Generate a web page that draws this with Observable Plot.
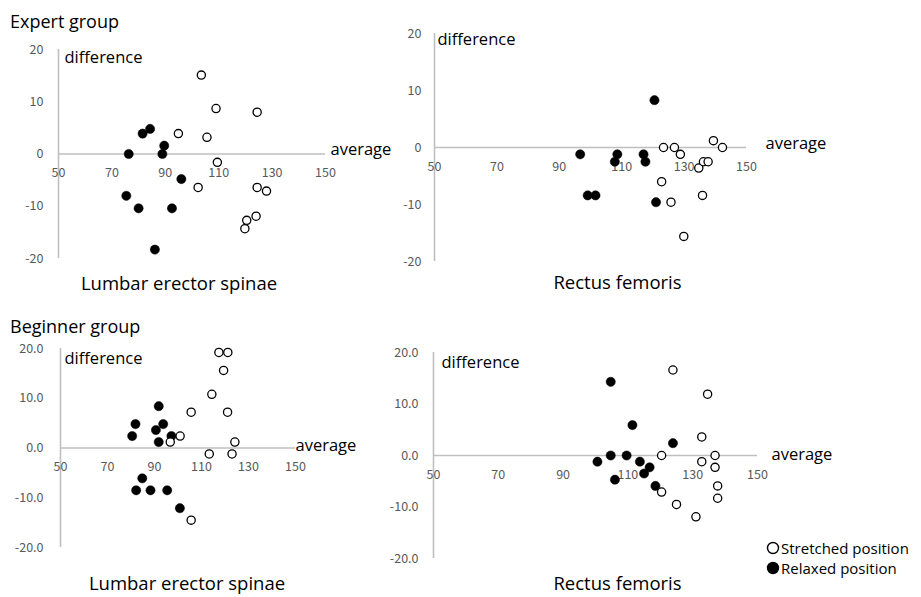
<!DOCTYPE html>
<html>
<head>
<meta charset="utf-8">
<script src="https://cdn.jsdelivr.net/npm/d3@7"></script>
<script src="https://cdn.jsdelivr.net/npm/@observablehq/plot@0.6"></script>
<style>
  html, body { margin: 0; padding: 0; background: #fff; }
  #wrap { position: relative; width: 921px; height: 597px; overflow: hidden; font-family: "Open Sans", "Noto Sans", sans-serif; }
  .panel { position: absolute; }
  .group { position: absolute; font-size: 18px; color: #000; line-height: 1; }
  .legend { position: absolute; left: 766px; top: 538px; font-size: 15px; color: #000; line-height: 20px; }
  .legend div { display: flex; align-items: center; white-space: nowrap; }
  .legend svg { margin-right: 1px; }
</style>
</head>
<body>
<div id="wrap"></div>
<script>
// ---- Data (average, difference) ----
const xTicks = [50, 70, 90, 110, 130, 150];
const yTicks = [20, 10, 0, -10, -20];
const expertYTickLabels = ["20", "10", "0", "-10", "-20"];
const beginnerYTickLabels = ["20.0", "10.0", "0.0", "-10.0", "-20.0"];

const groupTitles = ["Expert group", "Beginner group"];
const muscleNames = ["Lumbar erector spinae", "Rectus femoris"];
const seriesNames = ["Stretched position", "Relaxed position"];

// Expert – Lumbar erector spinae
const expLumStretchedAvg  = [103.5, 109, 124.4, 94.9, 105.6, 109.5, 102.3, 124.4, 127.9, 124, 120.5, 119.8];
const expLumStretchedDiff = [15.1, 8.7, 8.0, 3.9, 3.2, -1.6, -6.4, -6.4, -7.1, -11.9, -12.7, -14.3];
const expLumRelaxedAvg    = [76.3, 81.5, 84.3, 89.6, 88.9, 96, 75.4, 80, 92.5, 86.1];
const expLumRelaxedDiff   = [0, 3.9, 4.8, 1.6, 0, -4.8, -8.0, -10.4, -10.4, -18.3];

// Expert – Rectus femoris
const expRecStretchedAvg  = [123.4, 126.9, 128.8, 139.4, 142.3, 134.7, 136.2, 137.7, 122.8, 125.8, 135.9, 129.9];
const expRecStretchedDiff = [0, 0, -1.2, 1.2, 0, -3.6, -2.5, -2.5, -6.0, -9.6, -8.4, -15.6];
const expRecRelaxedAvg    = [96.7, 99.1, 101.6, 108.6, 107.8, 117, 117.6, 120.5, 121];
const expRecRelaxedDiff   = [-1.2, -8.4, -8.4, -1.2, -2.5, -1.2, -2.5, 8.3, -9.6];

// Beginner – Lumbar erector spinae
const begLumStretchedAvg  = [117.4, 121.2, 119.4, 114.4, 105.6, 121.1, 100.9, 96.7, 124.2, 113.3, 123.0, 105.6];
const begLumStretchedDiff = [19.2, 19.2, 15.6, 10.8, 7.2, 7.2, 2.4, 1.2, 1.2, -1.2, -1.2, -14.5];
const begLumRelaxedAvg    = [80.5, 81.9, 91.8, 90.6, 93.7, 91.8, 97.2, 84.8, 82.2, 88.3, 95.4, 100.8];
const begLumRelaxedDiff   = [2.4, 4.8, 8.4, 3.6, 4.8, 1.2, 2.4, -6.1, -8.5, -8.5, -8.5, -12.1];

// Beginner – Rectus femoris
const begRecStretchedAvg  = [123.9, 134.6, 132.8, 120.4, 136.9, 132.8, 136.9, 137.7, 137.7, 120.4, 125, 131];
const begRecStretchedDiff = [16.6, 11.9, 3.6, 0, 0, -1.2, -2.3, -5.9, -8.3, -7.1, -9.5, -11.9];
const begRecRelaxedAvg    = [104.7, 111.4, 123.9, 104.7, 109.6, 100.6, 113.7, 116.7, 115, 106, 118.5];
const begRecRelaxedDiff   = [14.3, 5.9, 2.4, 0, 0, -1.2, -1.2, -2.3, -3.5, -4.7, -5.9];

const zip = (xs, ys) => xs.map((x, i) => ({avg: x, diff: ys[i]}));

const AXIS = "#bfbfbf";
const TICK = "#595959";
const TICKFONT = '"Noto Sans CJK JP", "Noto Sans", sans-serif';
const FONT = '"Open Sans", "Noto Sans", sans-serif';

function panel(cfg) {
  const chart = Plot.plot({
    width: cfg.width, height: cfg.height,
    marginLeft: cfg.ml, marginRight: cfg.mr, marginTop: cfg.mt, marginBottom: cfg.mb,
    x: {domain: [50, 150], axis: null},
    y: {domain: [-20, 20], axis: null},
    style: `background: transparent; overflow: visible; font-family: ${FONT};`,
    marks: [
      Plot.ruleX([50], {y1: -20, y2: 20, stroke: AXIS, strokeWidth: 1.6}),
      Plot.ruleY([0], {x1: 50, x2: 150, stroke: AXIS, strokeWidth: 1.6}),
      Plot.text(xTicks, {x: d => d, y: 0, dy: 19, text: d => String(d), fill: TICK, fontSize: 12.5, fontFamily: TICKFONT}),
      Plot.text(yTicks, {x: 50, y: d => d, dx: cfg.ytdx, textAnchor: "end", text: (d, i) => cfg.yLabels[i], fill: TICK, fontSize: 12.5, fontFamily: TICKFONT}),
      Plot.dot(zip(cfg.relAvg, cfg.relDiff), {x: "avg", y: "diff", r: 4.6, fill: "#000", stroke: "#000", strokeWidth: 0.5}),
      Plot.dot(zip(cfg.strAvg, cfg.strDiff), {x: "avg", y: "diff", r: 4.1, fill: "#fff", stroke: "#000", strokeWidth: 1.3}),
      Plot.text(["difference"], {frameAnchor: "top-left", lineAnchor: "middle", textAnchor: "start", dx: cfg.dfdx, dy: cfg.dfdy, fill: "#000", fontSize: 16.5}),
      Plot.text(["average"], {frameAnchor: "right", lineAnchor: "middle", textAnchor: "start", dx: cfg.avdx, dy: cfg.avdy, fill: "#000", fontSize: 16.5}),
      Plot.text([cfg.title], {frameAnchor: "bottom", lineAnchor: "middle", dx: cfg.tdx, dy: cfg.tdy, fill: "#000", fontSize: 18.5})
    ]
  });
  chart.classList.add("panel");
  chart.style.left = cfg.left + "px";
  chart.style.top = cfg.top + "px";
  return chart;
}

const wrap = document.getElementById("wrap");

wrap.appendChild(panel({
  left: 0, top: 30, width: 410, height: 275, ml: 58, mr: 85, mt: 19, mb: 47,
  yLabels: expertYTickLabels, ytdx: -15,
  strAvg: expLumStretchedAvg, strDiff: expLumStretchedDiff, relAvg: expLumRelaxedAvg, relDiff: expLumRelaxedDiff,
  dfdx: 6, dfdy: 8, avdx: 5, avdy: -4, title: muscleNames[0], tdx: -13, tdy: 26
}));
wrap.appendChild(panel({
  left: 395, top: 10, width: 526, height: 290, ml: 39, mr: 175, mt: 23, mb: 39,
  yLabels: expertYTickLabels, ytdx: -13,
  strAvg: expRecStretchedAvg, strDiff: expRecStretchedDiff, relAvg: expRecRelaxedAvg, relDiff: expRecRelaxedDiff,
  dfdx: 3, dfdy: 6, avdx: 19, avdy: -4, title: muscleNames[1], tdx: 27, tdy: 22
}));
wrap.appendChild(panel({
  left: 0, top: 330, width: 410, height: 267, ml: 60, mr: 115, mt: 18, mb: 50,
  yLabels: beginnerYTickLabels, ytdx: -17,
  strAvg: begLumStretchedAvg, strDiff: begLumStretchedDiff, relAvg: begLumRelaxedAvg, relDiff: begLumRelaxedDiff,
  dfdx: 4, dfdy: 10, avdx: 0, avdy: -2, title: muscleNames[0], tdx: 9, tdy: 37
}));
wrap.appendChild(panel({
  left: 395, top: 330, width: 526, height: 267, ml: 38, mr: 164, mt: 22, mb: 39,
  yLabels: beginnerYTickLabels, ytdx: -15,
  strAvg: begRecStretchedAvg, strDiff: begRecStretchedDiff, relAvg: begRecRelaxedAvg, relDiff: begRecRelaxedDiff,
  dfdx: 8, dfdy: 10, avdx: 14, avdy: -1, title: muscleNames[1], tdx: 22, tdy: 26
}));

// Group titles
[[groupTitles[0], 10, 12], [groupTitles[1], 10, 317]].forEach(([t, x, y]) => {
  const d = document.createElement("div");
  d.className = "group"; d.textContent = t;
  d.style.left = x + "px"; d.style.top = y + "px";
  wrap.appendChild(d);
});

// Legend
const leg = document.createElement("div");
leg.className = "legend";
seriesNames.forEach((name, i) => {
  const row = document.createElement("div");
  const filled = i === 1;
  row.innerHTML = `<svg width="14" height="14"><circle cx="7" cy="7" r="${filled ? 6.2 : 5.5}" fill="${filled ? "#000" : "#fff"}" stroke="#000" stroke-width="${filled ? 0 : 1.4}"/></svg><span></span>`;
  row.querySelector("span").textContent = name;
  leg.appendChild(row);
});
wrap.appendChild(leg);
</script>
</body>
</html>
